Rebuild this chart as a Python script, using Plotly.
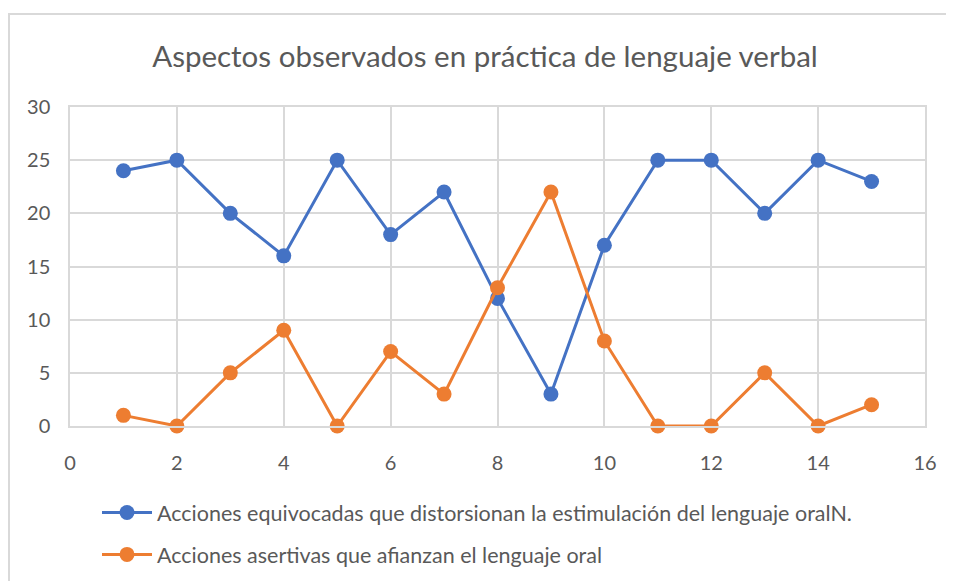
import plotly.graph_objects as go

x_vals = list(range(1, 16))
equivocadas = [24, 25, 20, 16, 25, 18, 22, 12, 3, 17, 25, 25, 20, 25, 23]
asertivas = [1, 0, 5, 9, 0, 7, 3, 13, 22, 8, 0, 0, 5, 0, 2]
name_eq = "Acciones equivocadas que distorsionan la estimulación del lenguaje oralN."
name_as = "Acciones asertivas que afianzan el lenguaje oral"
title = "Aspectos observados en práctica de lenguaje verbal"

FONT = "Lato"
GRID = "#d9d9d9"
TXT = "#595959"

L, T, PW, PH = 62, 99, 855, 319
W, H = 954, 581

fig = go.Figure()
fig.add_trace(go.Scatter(x=x_vals, y=equivocadas, name=name_eq, mode="lines+markers",
                         legendgroup="a", cliponaxis=False,
                         line=dict(color="#4472C4", width=3),
                         marker=dict(size=15, color="#4472C4")))
fig.add_trace(go.Scatter(x=x_vals, y=asertivas, name=name_as, mode="lines+markers",
                         legendgroup="b", cliponaxis=False,
                         line=dict(color="#ED7D31", width=3),
                         marker=dict(size=15, color="#ED7D31")))

fig.update_layout(
    width=W, height=H,
    margin=dict(l=L, r=W - L - PW, t=T, b=H - T - PH),
    paper_bgcolor="white", plot_bgcolor="white",
    font=dict(family=FONT, color=TXT, size=20),
    title=dict(text=title, x=0.5, xanchor="center", y=1 - 49 / H, yanchor="middle",
               font=dict(size=29.5, color=TXT, family=FONT)),
    xaxis=dict(range=[0, 16], dtick=2, showgrid=True, gridcolor=GRID, gridwidth=1.5,
               showline=True, linecolor=GRID, linewidth=1.5, mirror=True, zeroline=False,
               ticks="", ticklabelstandoff=18, tickfont=dict(size=20, color=TXT)),
    yaxis=dict(range=[0, 30], dtick=5, showgrid=True, gridcolor=GRID, gridwidth=1.5,
               showline=True, linecolor=GRID, linewidth=1.5, mirror=True, zeroline=False,
               ticks="", ticklabelstandoff=14, tickfont=dict(size=20, color=TXT)),
    legend=dict(x=(89 - L) / PW, y=(T + PH - 484) / PH, xanchor="left", yanchor="top",
                orientation="v", font=dict(size=21.5, color=TXT), itemwidth=50,
                tracegroupgap=11, bgcolor="rgba(0,0,0,0)"),
    showlegend=True,
)

fig.add_shape(type="rect", xref="paper", yref="paper",
              x0=(1 - L) / PW, x1=1.3, y0=-1, y1=(T + PH - 6) / PH,
              line=dict(color=GRID, width=2), fillcolor="rgba(0,0,0,0)", layer="below")

fig.write_html("out.html")
